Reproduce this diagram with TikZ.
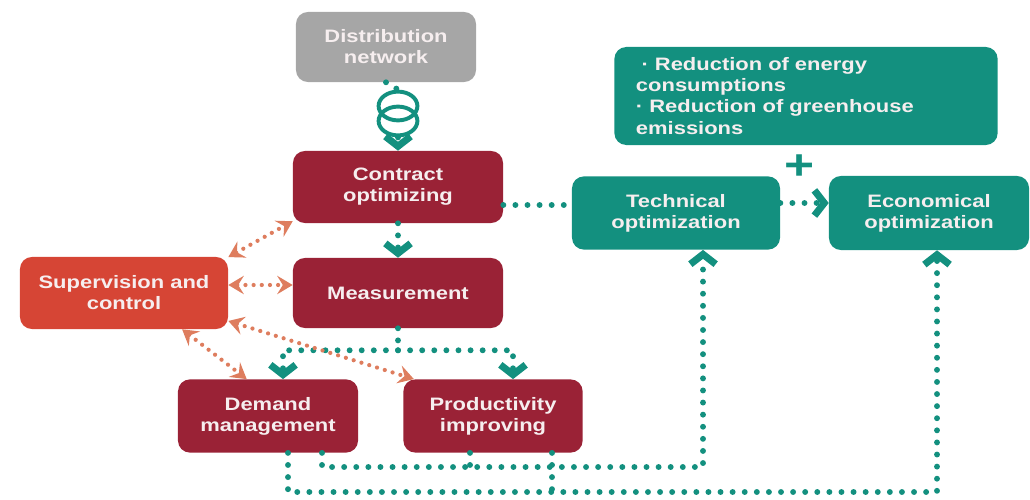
\documentclass[tikz,border=0pt]{standalone}
\usepackage{fontspec}
\setmainfont{Liberation Sans}[FakeStretch=1.22]
\usepackage{tikz}
\usetikzlibrary{arrows.meta,positioning,shapes.geometric}
\definecolor{label}{HTML}{F6EEEF}
\definecolor{wine}{HTML}{9A2236}
\definecolor{brick}{HTML}{D64535}
\definecolor{sea}{HTML}{13907F}
\definecolor{slate}{HTML}{A6A6A6}
\definecolor{coral}{HTML}{DE7D5E}
\tikzset{
  flowBox/.style={rounded corners=8.5pt, text=label, align=center, inner sep=0pt,
    font=\bfseries\fontsize{12.8}{15}\selectfont},
  wineBox/.style={flowBox, fill=wine, minimum width=5.25cm, minimum height=1.8cm},
  seaBox/.style={flowBox, fill=sea, minimum width=5.1cm, minimum height=1.83cm},
  coil/.style={ellipse, draw=sea, line width=2.8pt, minimum width=0.97cm, minimum height=0.72cm, inner sep=0pt},
  seaDots/.style={draw=sea, line width=4.2pt, line cap=round, dash pattern=on 0pt off 8.6pt},
  seaTip/.style={-{Straight Barb[length=7pt,width=18pt,line width=5pt]}},
  coralDots/.style={draw=coral, line width=3pt, line cap=round, dash pattern=on 0pt off 5.8pt,
    {Stealth[length=11pt,width=13pt,inset=4pt]}-{Stealth[length=11pt,width=13pt,inset=4pt]}}
}

\begin{document}
\begin{tikzpicture}[x=0.025cm, y=-0.025cm]
  \useasboundingbox (0,0) rectangle (1030,499);

  % boxes
  \node[flowBox, fill=slate, minimum width=4.5cm, minimum height=1.75cm] (dist) at (386,47) {Distribution\\network};
  \node[wineBox] (contract) at (398,187) {Contract\\optimizing};
  \node[wineBox, minimum height=1.75cm] (meas) at (398,293) {Measurement};
  \node[flowBox, fill=brick, minimum width=5.2cm, minimum height=1.8cm] (sup) at (124,293) {Supervision and\\control};
  \node[wineBox, minimum width=4.5cm, minimum height=1.83cm] (demand) at (268,416) {Demand\\management};
  \node[wineBox, minimum width=4.48cm, minimum height=1.83cm] (prod) at (493,416) {Productivity\\improving};
  \node[seaBox, minimum width=5.2cm] (tech) at (676,213) {Technical\\optimization};
  \node[seaBox, minimum width=5cm, minimum height=1.85cm] (econ) at (929,213) {Economical\\optimization};
  \node[flowBox, fill=sea, minimum width=9.58cm, minimum height=2.45cm, text width=8.5cm, align=left] (goals) at (806,96)
    {\hspace{4pt}\textperiodcentered\ Reduction of energy\\consumptions\\\textperiodcentered\ Reduction of greenhouse\\emissions};
  \node[text=sea, font=\bfseries\fontsize{30}{30}\selectfont] (plus) at (800,167) {+};

  % transformer
  \node[coil] (coilTop) at (398,106) {};
  \node[coil] (coilBot) at (398,121) {};

  % teal links
  \draw[seaDots] (dist.south) -- (coilTop.north);
  \draw[seaDots, seaTip] (coilBot.south) -- (contract.north);
  \draw[seaDots, seaTip] (contract.south) -- (meas.north);
  \draw[seaDots] (meas.south) -- ++(0,22) coordinate (split);
  \draw[seaDots, seaTip] (split) -| ([shift={(15,0)}]demand.north);
  \draw[seaDots, seaTip] (split) -| ([shift={(20,0)}]prod.north);
  \draw[seaDots] ([shift={(0,18)}]contract.east) -- ([shift={(0,18)}]contract.east -| tech.west);
  \draw[seaDots, seaTip] ([shift={(0,-10)}]tech.east) -- ([shift={(0,-10)}]tech.east -| econ.west);

  \coordinate (busA) at (703,467);
  \coordinate (busB) at (937,492);
  \draw[seaDots, seaTip] ([shift={(54,0)}]demand.south) |- (busA) -- (busA |- tech.south);
  \draw[seaDots] ([shift={(-23,0)}]prod.south) -- ([shift={(-23,0)}]prod.south |- busA);
  \draw[seaDots, seaTip] ([shift={(20,0)}]demand.south) |- (busB) -- (busB |- econ.south);
  \draw[seaDots] ([shift={(59,0)}]prod.south) -- ([shift={(59,0)}]prod.south |- busB);

  % supervision links
  \draw[coralDots] (sup.19) -- (contract.198);
  \draw[coralDots] ([shift={(0,-8)}]sup.east) -- ([shift={(0,-8)}]sup.east -| meas.west);
  \draw[coralDots] (sup.-32) -- (demand.120);
  \draw[coralDots] (sup.-15) -- (prod.155);
\end{tikzpicture}
\end{document}
